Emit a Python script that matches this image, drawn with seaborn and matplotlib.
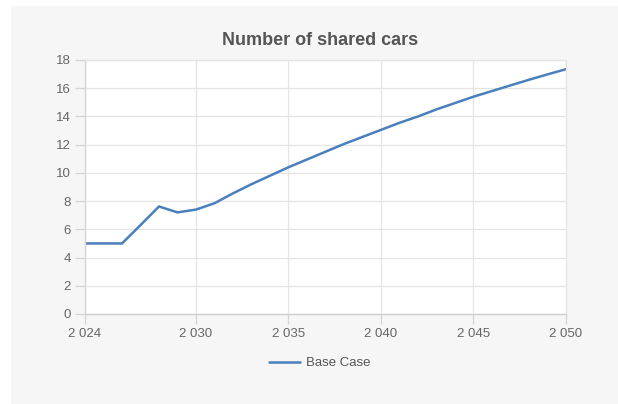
import matplotlib
matplotlib.use("Agg")
import matplotlib.pyplot as plt
from matplotlib.patches import Rectangle
from matplotlib.ticker import FuncFormatter, MultipleLocator
import pandas as pd
import seaborn as sns

# Yearly number of shared cars, base case scenario
years = list(range(2024, 2051))
shared_cars = [5.0, 5.0, 5.0, 6.3, 7.62, 7.2, 7.4, 7.85, 8.55, 9.2, 9.8,
               10.4, 10.95, 11.5, 12.05, 12.55, 13.05, 13.55, 14.0, 14.5,
               14.95, 15.4, 15.8, 16.2, 16.6, 16.98, 17.35]
series_name = "Base Case"
title = "Number of shared cars"
x_ticks = [2024, 2030, 2035, 2040, 2045, 2050]

df = pd.DataFrame({"year": years, "value": shared_cars, "series": series_name})

sns.set_theme(style="white")
plt.rcParams["font.family"] = ["Liberation Sans", "DejaVu Sans"]

W, H = 618, 404
fig = plt.figure(figsize=(W / 100, H / 100), dpi=100, facecolor="white")
# light grey card behind the chart
fig.patches.append(Rectangle((11 / W, 0), 1 - 11 / W, 1 - 6 / H,
                             transform=fig.transFigure, facecolor="#f6f6f6",
                             edgecolor="none", zorder=-10))

ax = fig.add_axes([85 / W, 90 / H, (566 - 85) / W, (314 - 60) / H])
ax.set_facecolor("white")

sns.lineplot(data=df, x="year", y="value", hue="series",
             palette=["#4a7fbd"], linewidth=1.8, ax=ax)

ax.set_xlim(2024, 2050)
ax.set_ylim(0, 18)
ax.set_xticks(x_ticks)
ax.yaxis.set_major_locator(MultipleLocator(2))
ax.xaxis.set_major_formatter(FuncFormatter(lambda v, p: f"{int(v):,}".replace(",", " ")))
ax.set_xlabel("")
ax.set_ylabel("")

ax.grid(True, color="#e4e4e4", linewidth=0.9)
ax.set_axisbelow(True)
for side in ["top", "right"]:
    ax.spines[side].set_color("#e4e4e4")
    ax.spines[side].set_linewidth(0.9)
ax.spines["left"].set_color("#d6d6d6")
ax.spines["bottom"].set_color("#cfcfcf")
ax.spines["left"].set_linewidth(1.0)
ax.spines["bottom"].set_linewidth(1.0)

ax.tick_params(axis="both", which="major", direction="out", length=7,
               width=0.9, color="#d6d6d6", labelsize=9.5, labelcolor="#666666",
               pad=3, left=True, bottom=True)

ax.set_title(title, fontsize=13, fontweight="bold", color="#555555", pad=11,
             x=(320 - 85) / (566 - 85))

leg = ax.get_legend()
if leg is not None:
    leg.remove()
handles, labels = ax.get_legend_handles_labels()
fig.legend(handles, labels, loc="center", bbox_to_anchor=(320 / W, (H - 363) / H),
           frameon=False, fontsize=9.5, handlelength=2.3, handletextpad=0.5,
           labelcolor="#555555")

fig.savefig("out.png", dpi=100, facecolor=fig.get_facecolor())
